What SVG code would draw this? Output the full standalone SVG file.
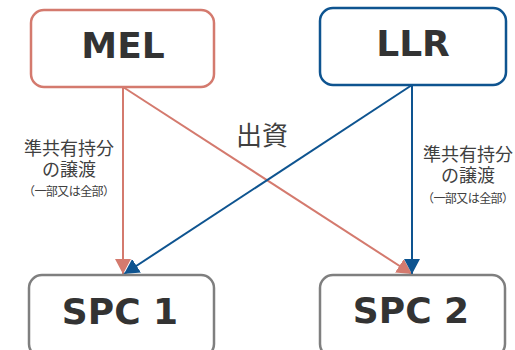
<svg xmlns="http://www.w3.org/2000/svg" width="515" height="350" viewBox="0 0 515 350" lang="ja">
  <defs>
    <style>
      .box { fill: #ffffff; stroke-width: 2.5; }
      .mel { stroke: #D47A6E; }
      .llr { stroke: #0E5490; }
      .spc { stroke: #7F7F7F; }
      .title { font-family: "DejaVu Sans", Verdana, sans-serif; font-weight: bold; font-size: 36px; fill: #333333; text-anchor: middle; }
      .lbl { font-family: "Liberation Sans", "Noto Sans CJK JP", sans-serif; fill: #404040; text-anchor: middle; text-spacing-trim: space-all; font-feature-settings: "chws" 0, "halt" 0; }
      .l18 { font-size: 18px; }
      .l12 { font-size: 12px; }
      .red { stroke: #D47A6E; stroke-width: 2; fill: none; }
      .blue { stroke: #0E5490; stroke-width: 2; fill: none; }
    </style>
    <marker id="ah-red" markerUnits="userSpaceOnUse" markerWidth="16" markerHeight="16" viewBox="0 0 16 16" refX="15" refY="8" orient="auto">
      <path d="M0,0 L15,8 L0,16 Z" fill="#D47A6E"/>
    </marker>
    <marker id="ah-blue" markerUnits="userSpaceOnUse" markerWidth="16" markerHeight="16" viewBox="0 0 16 16" refX="15" refY="8" orient="auto">
      <path d="M0,0 L15,8 L0,16 Z" fill="#0E5490"/>
    </marker>
  </defs>
  <rect width="515" height="350" fill="#ffffff"/>

  <g id="connectors">
    <line class="red" x1="123" y1="87" x2="123" y2="274" marker-end="url(#ah-red)"/>
    <line class="red" x1="123" y1="87" x2="412" y2="274" marker-end="url(#ah-red)"/>
    <line class="blue" x1="412" y1="85" x2="412" y2="274" marker-end="url(#ah-blue)"/>
    <line class="blue" x1="412" y1="85" x2="124" y2="274" marker-end="url(#ah-blue)"/>
  </g>

  <g id="MEL">
    <rect class="box mel" x="31" y="10" width="183" height="77" rx="13"/>
    <text class="title" x="123" y="58">MEL</text>
  </g>
  <g id="LLR">
    <rect class="box llr" x="320" y="8" width="186" height="77" rx="13"/>
    <text class="title" x="413" y="56">LLR</text>
  </g>
  <g id="SPC1">
    <rect class="box spc" x="29" y="275" width="185" height="82" rx="13"/>
    <text class="title" x="120" y="324">SPC 1</text>
  </g>
  <g id="SPC2">
    <rect class="box spc" x="320" y="275" width="185" height="82" rx="13"/>
    <text class="title" x="411" y="323">SPC 2</text>
  </g>

  <g id="label-left">
    <text class="lbl"><tspan class="l18" x="69" y="155">準共有持分</tspan><tspan class="l18" x="69" y="176">の譲渡</tspan><tspan class="l12" x="69" y="196" textLength="92" lengthAdjust="spacing">（一部又は全部）</tspan></text>
  </g>
  <g id="label-right">
    <text class="lbl"><tspan class="l18" x="468" y="161">準共有持分</tspan><tspan class="l18" x="468" y="182">の譲渡</tspan><tspan class="l12" x="468" y="203" textLength="92" lengthAdjust="spacing">（一部又は全部）</tspan></text>
  </g>
  <g id="label-center">
    <text class="lbl" x="262" y="145" font-size="26px">出資</text>
  </g>
</svg>
